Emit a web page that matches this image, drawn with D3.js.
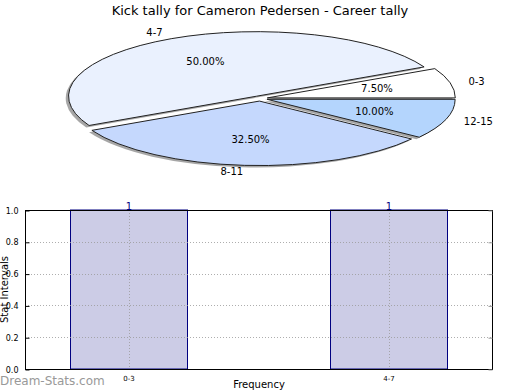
<!doctype html>
<html lang="en">
<head>
  <meta charset="utf-8">
  <title>Kick tally</title>
  <style>
    body { margin: 0; background: #fff; }
    svg { display: block; font-family: "DejaVu Sans", sans-serif; }
  </style>
</head>
<body>
  <div id="vis"></div>

  <script src="https://cdn.jsdelivr.net/npm/d3@7"></script>
  <script>
    // pie data
    const pieLabels = ['0-3', '4-7', '8-11', '12-15'];
    const pieValues = [7.5, 50, 32.5, 10];
    const pieColors = ['#ffffff', '#eaf1fe', '#c5d8fd', '#b4d5fd'];

    // bar data
    const barCategories = ['0-3', '4-7'];
    const barValues = [1, 1];
    const yTicks = [0, 0.2, 0.4, 0.6, 0.8, 1.0];

    const w = 520, h = 390;

    const svg = d3.select('#vis')
      .append('svg')
        .attr('width', w)
        .attr('height', h);

    svg.append('text')
      .attr('x', 260)
      .attr('y', 15)
      .attr('text-anchor', 'middle')
      .style('font-size', '13px')
      .text('Kick tally for Cameron Pedersen - Career tally');

    // ---- pie (matplotlib style: ccw from east, squashed) ----
    const cx = 260, cy = 98.5, rx = 188, ry = 64.5;
    const explode = 0.04;
    const R = 100;

    const pie = d3.pie()
      .sort(null)
      .startAngle(Math.PI / 2)
      .endAngle(Math.PI / 2 - 2 * Math.PI);
    const arcs = pie(pieValues);
    const arc = d3.arc().innerRadius(0).outerRadius(R);

    const pieG = svg.append('g');

    function offset(d, k) {
      const a = (d.startAngle + d.endAngle) / 2;
      return [cx + k * Math.sin(a) * rx, cy - k * Math.cos(a) * ry];
    }

    // shadow
    arcs.forEach((d, i) => {
      const [ox, oy] = offset(d, explode);
      pieG.append('path')
        .attr('d', arc(d))
        .attr('transform', `translate(${ox - 0.015 * rx},${oy + 0.03 * ry}) scale(${rx / R},${ry / R})`)
        .attr('fill', '#000')
        .attr('opacity', 0.35);
    });

    arcs.forEach((d, i) => {
      const [ox, oy] = offset(d, explode);
      pieG.append('path')
        .attr('d', arc(d))
        .attr('transform', `translate(${ox},${oy}) scale(${rx / R},${ry / R})`)
        .attr('fill', pieColors[i])
        .attr('stroke', '#222')
        .attr('stroke-width', 1)
        .attr('vector-effect', 'non-scaling-stroke');
    });

    arcs.forEach((d, i) => {
      const a = (d.startAngle + d.endAngle) / 2;
      const [lx, ly] = offset(d, 1.1 + explode);
      pieG.append('text')
        .attr('x', lx)
        .attr('y', ly)
        .attr('dy', '0.35em')
        .attr('text-anchor', Math.sin(a) > 0 ? 'start' : 'end')
        .style('font-size', '10px')
        .text(pieLabels[i]);

      const [px, py] = offset(d, 0.6 + explode);
      const total = d3.sum(pieValues);
      pieG.append('text')
        .attr('x', px)
        .attr('y', py)
        .attr('dy', '0.35em')
        .attr('text-anchor', 'middle')
        .style('font-size', '10px')
        .text((100 * d.value / total).toFixed(2) + '%');
    });

    // ---- bar chart ----
    const plotL = 25, plotR = 493, plotT = 210, plotB = 369;

    const x = d3.scaleLinear().domain([-0.4, 1.4]).range([plotL, plotR]);
    const y = d3.scaleLinear().domain([0, 1]).range([plotB, plotT]);
    const barW = 0.45;

    const barG = svg.append('g');

    barG.selectAll('.bar')
      .data(barValues)
      .enter()
      .append('rect')
        .attr('class', 'bar')
        .attr('x', (d, i) => x(i - barW / 2))
        .attr('y', d => y(d))
        .attr('width', x(barW) - x(0))
        .attr('height', d => y(0) - y(d))
        .attr('fill', '#cccce6')
        .attr('stroke', '#000080')
        .attr('stroke-width', 1);

    // grid
    barG.selectAll('.hgrid')
      .data(yTicks.slice(1, -1))
      .enter()
      .append('line')
        .attr('x1', plotL).attr('x2', plotR)
        .attr('y1', d => Math.round(y(d)) + 0.5)
        .attr('y2', d => Math.round(y(d)) + 0.5)
        .attr('stroke', '#999')
        .attr('stroke-width', 0.8)
        .attr('stroke-dasharray', '1,2');

    barG.selectAll('.vgrid')
      .data(barCategories)
      .enter()
      .append('line')
        .attr('x1', (d, i) => Math.round(x(i)) + 0.5)
        .attr('x2', (d, i) => Math.round(x(i)) + 0.5)
        .attr('y1', plotT).attr('y2', plotB)
        .attr('stroke', '#999')
        .attr('stroke-width', 0.8)
        .attr('stroke-dasharray', '1,2');

    // frame
    barG.append('rect')
      .attr('x', plotL + 0.5).attr('y', plotT + 0.5)
      .attr('width', plotR - plotL - 1).attr('height', plotB - plotT)
      .attr('fill', 'none')
      .attr('stroke', '#000')
      .attr('stroke-width', 1);

    // y axis ticks (inside, both sides)
    const yAxis = d3.axisLeft(y).tickValues(yTicks).tickFormat(d3.format('.1f')).tickSizeInner(-4).tickSizeOuter(0).tickPadding(7);
    barG.append('g')
      .attr('transform', `translate(${plotL + 0.5},0.5)`)
      .call(yAxis)
      .call(g => g.select('.domain').remove())
      .call(g => g.selectAll('text').style('font-size', '8px').style('font-family', 'DejaVu Sans'));

    barG.append('g')
      .attr('transform', `translate(${plotR - 0.5},0.5)`)
      .call(d3.axisRight(y).tickValues(yTicks).tickSizeInner(-4).tickSizeOuter(0).tickFormat(''))
      .call(g => g.select('.domain').remove())
      .call(g => g.selectAll('line').attr('stroke', '#999'));

    // x tick labels
    barG.selectAll('.xlab')
      .data(barCategories)
      .enter()
      .append('text')
        .attr('x', (d, i) => x(i))
        .attr('y', plotB + 12)
        .attr('text-anchor', 'middle')
        .style('font-size', '7px')
        .text(d => d);

    // value labels
    barG.selectAll('.vlab')
      .data(barValues)
      .enter()
      .append('text')
        .attr('x', (d, i) => x(i))
        .attr('y', d => y(d) - 0.5)
        .attr('text-anchor', 'middle')
        .attr('fill', '#000080')
        .style('font-size', '10px')
        .text(d => d);

    svg.append('text')
      .attr('transform', `translate(8,${(plotT + plotB) / 2}) rotate(-90)`)
      .attr('text-anchor', 'middle')
      .style('font-size', '10px')
      .text('Stat Intervals');

    svg.append('text')
      .attr('x', (plotL + plotR) / 2)
      .attr('y', 388)
      .attr('text-anchor', 'middle')
      .style('font-size', '10px')
      .text('Frequency');

    svg.append('text')
      .attr('x', 0)
      .attr('y', 385)
      .attr('fill', '#999')
      .style('font-size', '12px')
      .text('Dream-Stats.com');
  </script>
</body>
</html>
